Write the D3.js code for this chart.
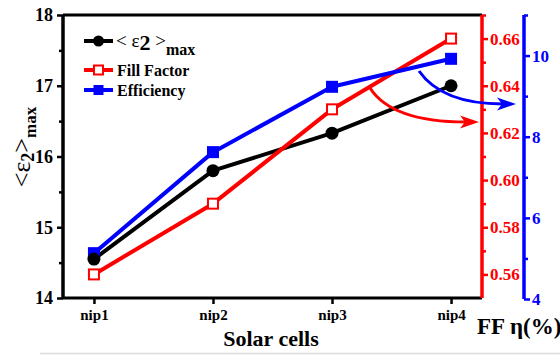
<!DOCTYPE html>
<html>
<head>
<meta charset="utf-8">
<script src="https://cdn.jsdelivr.net/npm/d3@7"></script>
<style>
  html, body { margin: 0; padding: 0; background: #fff; }
  svg { display: block; }
  svg text { font-family: "Liberation Serif", "Times New Roman", serif !important; font-weight: bold; }
</style>
</head>
<body>
<svg id="chart" width="560" height="356"></svg>
<script>
// Solar cell samples and measured quantities
const cells = ["nip1", "nip2", "nip3", "nip4"];
const eps2Max = [14.55, 15.80, 16.33, 17.00];
const fillFactor = [0.56, 0.59, 0.63, 0.66];
const efficiency = [5.13, 7.62, 9.23, 9.92];

const leftTicks = [14, 15, 16, 17, 18];
const ffTicks = [0.56, 0.58, 0.60, 0.62, 0.64, 0.66];
const effTicks = [4, 6, 8, 10];

const SERIF = "'Liberation Serif', 'Times New Roman', serif";
const svg = d3.select("#chart");

const plotL = 63, plotR = 482, plotT = 15, plotB = 298;

const x = d3.scalePoint().domain(cells).range([plotL, plotR]).padding(0.26);
const yL = d3.scaleLinear().domain([14, 18]).range([plotB, plotT]);
const yR = d3.scaleLinear().domain([0.55, 0.67]).range([plotB, plotT]);
const yB = d3.scaleLinear().domain([4, 11]).range([299, plotT]);

const RED = "#ff0000", BLUE = "#0000ff";

// faint rule along the bottom edge
svg.append("line").attr("x1", 40).attr("x2", 560).attr("y1", 353.5).attr("y2", 353.5)
  .attr("stroke", "#dcdcdc").attr("stroke-width", 1.5);

// top frame line
svg.append("line").attr("x1", plotL).attr("x2", plotR).attr("y1", plotT).attr("y2", plotT)
  .attr("stroke", "#000").attr("stroke-width", 3);

// left axis
const gL = svg.append("g").attr("transform", `translate(${plotL},0)`);
gL.call(d3.axisLeft(yL).tickValues(d3.range(14.5, 18, 1)).tickSize(4).tickFormat(""));
gL.call(g => g.append("g").call(d3.axisLeft(yL).tickValues(leftTicks).tickSize(6).tickPadding(4).tickFormat(d3.format("d"))));
gL.selectAll(".domain").attr("stroke-width", 3).attr("d", `M0,${plotT}V${plotB}`);
gL.selectAll("line").attr("stroke-width", 2.5);
gL.selectAll("text").style("font-size", "18px").attr("fill", "#000");

// bottom axis
const gX = svg.append("g").attr("transform", `translate(0,${plotB})`);
gX.call(d3.axisBottom(x).tickSize(6).tickPadding(5));
gX.select(".domain").attr("stroke-width", 3).attr("d", `M${plotL},0H${plotR}`);
gX.selectAll("line").attr("stroke-width", 2.5);
gX.selectAll("text").style("font-size", "15px").attr("fill", "#000");

// right axis: fill factor
const gR = svg.append("g").attr("transform", `translate(${plotR},0)`);
gR.call(d3.axisRight(yR).tickValues(d3.range(0.57, 0.675, 0.02)).tickSize(4).tickFormat(""));
gR.call(g => g.append("g").call(d3.axisRight(yR).tickValues(ffTicks).tickSize(6).tickPadding(2).tickFormat(d3.format(".2f"))));
gR.selectAll(".domain").attr("stroke", RED).attr("stroke-width", 3).attr("d", `M0,${plotT}V${plotB}`);
gR.selectAll("line").attr("stroke", RED).attr("stroke-width", 2.5);
gR.selectAll("text").style("font-size", "17px").attr("fill", RED);

// far right axis: efficiency
const gB = svg.append("g").attr("transform", "translate(524,0)");
gB.call(d3.axisRight(yB).tickValues([5, 7, 9, 11]).tickSize(4).tickFormat(""));
gB.call(g => g.append("g").call(d3.axisRight(yB).tickValues(effTicks).tickSize(6).tickPadding(2).tickFormat(d3.format("d"))));
gB.selectAll(".domain").attr("stroke", BLUE).attr("stroke-width", 3).attr("d", `M0,${plotT}V299`);
gB.selectAll("line").attr("stroke", BLUE).attr("stroke-width", 2.5);
gB.selectAll("text").style("font-size", "17px").attr("fill", BLUE);

svg.selectAll("g").attr("font-family", SERIF);

// series lines
function series(values, yScale, color) {
  const pts = values.map((v, i) => [x(cells[i]), yScale(v)]);
  svg.append("path").attr("d", d3.line()(pts)).attr("fill", "none")
    .attr("stroke", color).attr("stroke-width", 4).attr("stroke-linejoin", "round");
  return pts;
}
const ptsK = series(eps2Max, yL, "#000");
const ptsR = series(fillFactor, yR, RED);
const ptsB = series(efficiency, yB, BLUE);

svg.selectAll(".mk").data(ptsR).join("rect")
  .attr("x", d => d[0] - 5).attr("y", d => d[1] - 5).attr("width", 10).attr("height", 10)
  .attr("fill", "#fff").attr("stroke", RED).attr("stroke-width", 2);
svg.selectAll(".mb").data(ptsB).join("rect")
  .attr("x", d => d[0] - 6).attr("y", d => d[1] - 6).attr("width", 12).attr("height", 12)
  .attr("fill", BLUE);
svg.selectAll(".mc").data(ptsK).join("circle")
  .attr("cx", d => d[0]).attr("cy", d => d[1]).attr("r", 6.5).attr("fill", "#000");

// curved arrows pointing to the matching axes, with horizontal heads
function curvedArrow(d, tipX, tipY, color) {
  svg.append("path").attr("d", d).attr("fill", "none")
    .attr("stroke", color).attr("stroke-width", 3);
  svg.append("path")
    .attr("d", `M${tipX},${tipY} L${tipX - 19},${tipY - 6.5} L${tipX - 14},${tipY} L${tipX - 19},${tipY + 6.5} Z`)
    .attr("fill", color);
}
curvedArrow("M370,88 Q392,122 466,122", 479, 122, RED);
curvedArrow("M419,71 Q442,104 503,104", 516, 104, BLUE);

// legend
const legend = [
  { color: "#000", type: "circle", y: 41 },
  { color: RED, type: "open", y: 70, label: "Fill Factor" },
  { color: BLUE, type: "filled", y: 90, label: "Efficiency" }
];
legend.forEach(d => {
  svg.append("line").attr("x1", 84).attr("x2", 113).attr("y1", d.y).attr("y2", d.y)
    .attr("stroke", d.color).attr("stroke-width", 4);
  if (d.type === "circle") {
    svg.append("circle").attr("cx", 98.5).attr("cy", d.y).attr("r", 5.5).attr("fill", d.color);
  } else if (d.type === "open") {
    svg.append("rect").attr("x", 94).attr("y", d.y - 4.5).attr("width", 9).attr("height", 9)
      .attr("fill", "#fff").attr("stroke", d.color).attr("stroke-width", 2);
  } else {
    svg.append("rect").attr("x", 93.5).attr("y", d.y - 5).attr("width", 10).attr("height", 10)
      .attr("fill", d.color);
  }
  if (d.label) {
    svg.append("text").attr("x", 117).attr("y", d.y + 6).style("font-size", "16px").text(d.label);
  }
});
const lt = svg.append("text").attr("x", 116).attr("y", 47).style("font-size", "19px");
lt.append("tspan").style("font-weight", "normal").text("< ε");
lt.append("tspan").style("font-size", "22px").attr("dy", 3).text("2");
lt.append("tspan").style("font-weight", "normal").attr("dy", -3).text(" >");
lt.append("tspan").style("font-size", "16px").attr("dy", 8).text("max");

// axis titles
const yt = svg.append("text").attr("transform", "translate(30,147) rotate(-90)")
  .attr("text-anchor", "middle").style("font-size", "26px");
yt.append("tspan").style("font-weight", "normal").text("<ε");
yt.append("tspan").style("font-size", "18px").attr("dy", 4).text("2");
yt.append("tspan").style("font-weight", "normal").attr("dy", -4).text(">");
yt.append("tspan").style("font-size", "17px").attr("dy", 6).text("max");

svg.append("text").attr("x", 271).attr("y", 346).attr("text-anchor", "middle")
  .style("font-size", "22px").text("Solar cells");
svg.append("text").attr("x", 477).attr("y", 334).style("font-size", "23px").text("FF η(%)");

svg.selectAll("text").style("font-family", SERIF);
</script>
</body>
</html>
